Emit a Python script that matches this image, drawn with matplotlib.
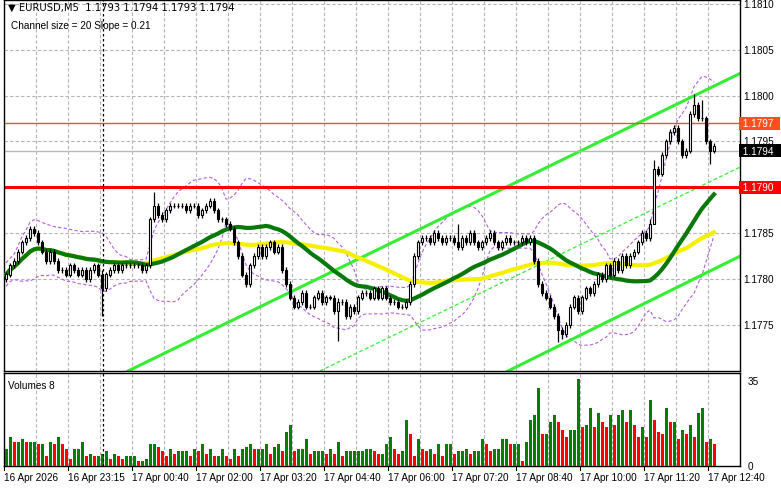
import numpy as np
import pandas as pd
import matplotlib
matplotlib.use("Agg")
import matplotlib.pyplot as plt

# closes in pips above 1.1700
closes_pips = [
    80.5, 81.5, 82,
    83, 84, 84.5, 85.5, 85, 84,
    83, 82, 83, 82, 81,
    81, 80.5, 81.5, 81, 80.5, 81, 80, 81, 81.5, 80.5, 79,
    80.5, 81, 81.5, 81, 81.5, 81.5, 81.5, 81.5, 81.5, 81, 81.5,
    86.5,
    88, 87, 86.5, 87.5, 88, 88, 88, 88, 87.5, 88, 88, 87, 87.5, 88, 88.5, 87.5, 86.5,
    86.5, 86, 85.5, 84, 82.5, 80.5, 79.5,
    81.5, 82.5, 83.5, 82.5, 83.5, 84, 83, 83.5, 81, 79.5,
    78, 77, 77.5, 78.5, 77, 77, 78, 78.5, 77.5, 78, 78, 76.5, 77.5, 77.5, 76,
    77, 76.5, 78, 78.5, 78.5, 78, 79, 78, 79, 78, 77.5, 77.5, 77, 77, 77.5,
    79.5, 82.5, 84, 84.5,
    84.5, 84, 85, 84.5, 84, 84.5, 84.5, 84, 83.5, 84.5, 84, 85, 84, 83.5, 84, 84.5, 85, 84, 83.5, 84,
    84.5, 84, 84, 84, 84.5, 84, 84.5,
    82, 79.5, 78.5, 78, 77, 76, 74.5, 74, 75,
    77, 78, 76.5, 78, 79, 78.5, 79.5,
    80.5, 80, 81.5, 80.5, 82, 81, 82.5, 81.5, 82.5, 83, 84, 85, 84.5,
    86, 92, 91.5,
    93.5, 95, 96, 96.5, 95, 93.5, 94,
    98, 99, 97.5, 97.5, 95, 94, 94.5,
]
first_open_pips = 80.0
wick_pips = 0.3
high_idx = [24, 37, 83, 113, 161, 162, 172, 174]
high_val = [81.0, 89.5, 78.0, 86.0, 86.5, 93.0, 100.2, 99.5]
low_idx = [24, 83, 138, 139, 162, 176]
low_val = [76.0, 73.3, 73.2, 73.5, 90.0, 92.5]

volumes = [
    7, 12, 10, 10, 11, 10, 10, 10, 9, 9, 4, 10, 9, 12, 9, 7, 3, 7, 7, 10,
    4, 5, 4, 4, 5, 6, 3, 5, 4, 3, 4, 4, 4, 2, 2, 3, 9, 9, 8, 6,
    4, 7, 5, 6, 6, 6, 4, 7, 6, 9, 5, 7, 4, 4, 7, 4, 3, 7, 4, 7,
    8, 9, 7, 7, 7, 9, 5, 8, 9, 6, 14, 17, 6, 7, 7, 11, 5, 6, 6, 6,
    5, 7, 5, 10, 4, 6, 6, 6,
    6, 6, 7, 7, 6, 5, 5, 9, 12, 7, 5, 6, 19, 13, 4, 11, 7, 6, 7, 5,
    9, 4, 9, 9, 5, 6, 6, 7, 5, 6, 6, 11, 9, 6, 7, 7, 11, 11, 9, 9,
    9, 2, 10, 19, 21, 32, 13, 13, 18, 21, 18, 15, 12, 15, 15, 36, 16, 17, 24, 16,
    22, 18, 16, 21, 17, 21, 23, 18, 23, 17, 12, 16, 12, 27, 19, 14, 13, 24, 18, 18,
    11, 15, 13, 17, 12, 22, 24, 10, 11, 9,
]

time_labels = ["16 Apr 2026", "16 Apr 23:15", "17 Apr 00:40", "17 Apr 02:00", "17 Apr 03:20",
               "17 Apr 04:40", "17 Apr 06:00", "17 Apr 07:20", "17 Apr 08:40", "17 Apr 10:00",
               "17 Apr 11:20", "17 Apr 12:40"]
price_ticks = [1.1775, 1.1780, 1.1785, 1.1795, 1.1800, 1.1805, 1.1810]

# channel lines: (bar, price) endpoints
chan_upper = [(30.5, 1.1770), (183.5, 1.18024)]
chan_mid = [(78.5, 1.1770), (183.5, 1.17922)]
chan_lower = [(125.5, 1.1770), (183.5, 1.17825)]

support = 1.1790
resist = 1.1797
last_price = 1.1794

close = 1.17 + np.array(closes_pips) / 1e4
n = len(close)
opn = np.concatenate([[1.17 + first_open_pips / 1e4], close[:-1]])
high = np.maximum(opn, close) + wick_pips / 1e4
low = np.minimum(opn, close) - wick_pips / 1e4
for i, v in zip(high_idx, high_val):
    high[i] = 1.17 + v / 1e4
for i, v in zip(low_idx, low_val):
    low[i] = 1.17 + v / 1e4
x = np.arange(n)

s = pd.Series(close)
ma_fast = s.rolling(30, min_periods=1).mean()
ma_slow = s.rolling(50, min_periods=1).mean()
bb_mid = s.rolling(20, min_periods=1).mean()
bb_std = s.rolling(20, min_periods=2).std().bfill()
bb_up = bb_mid + 1.8 * bb_std
bb_dn = bb_mid - 1.8 * bb_std

W, H = 781, 489
fig = plt.figure(figsize=(W / 100, H / 100), dpi=100)
plt.rcParams['font.family'] = ['Liberation Sans', 'DejaVu Sans']
FS = 7.2

def px(l, t, r, b):
    return [l / W, 1 - b / H, (r - l) / W, (b - t) / H]

ax = fig.add_axes(px(4, 1, 740, 372))
av = fig.add_axes(px(4, 374, 740, 467))
xlim = (-0.5, 183.5)

grid_x = np.arange(-0.5, 184, 8)
for a in (ax, av):
    a.set_xlim(*xlim)
    for gx in grid_x[1:]:
        a.axvline(gx, color='#b4b4b4', lw=0.8, ls=(0, (3, 2)), zorder=0)
    a.set_xticks([])
    a.set_yticks([])
    for sp in a.spines.values():
        sp.set_linewidth(1.0)

ax.set_ylim(1.1770, 1.18104)
for gy in np.arange(1.1775, 1.1811, 0.0005):
    ax.axhline(gy, color='#b4b4b4', lw=0.8, ls=(0, (3, 2)), zorder=0)

# bollinger
ax.plot(x, bb_up, color='#b060e0', lw=0.8, ls=(0, (3, 2)), zorder=1)
ax.plot(x, bb_dn, color='#b060e0', lw=0.8, ls=(0, (3, 2)), zorder=1)
# channel
for (x0, y0), (x1, y1) in [chan_upper, chan_lower]:
    ax.plot([x0, x1], [y0, y1], color='#33ee33', lw=2.2, zorder=2)
(x0, y0), (x1, y1) = chan_mid
ax.plot([x0, x1], [y0, y1], color='#33ee33', lw=0.9, ls=(0, (3, 2)), zorder=2)
# MAs
ax.plot(x, ma_slow, color='#f5f000', lw=3, zorder=3)
ax.plot(x, ma_fast, color='#087808', lw=3, zorder=3)

# horizontal levels
ax.axhline(resist, color='#ff5020', lw=1.0, zorder=2)
ax.axhline(last_price, color='#b8b8b8', lw=1.0, zorder=2)
ax.axhline(support, color='#ff0000', lw=2.2, zorder=2)

# candles
ax.vlines(x, low, high, color='black', lw=0.9, zorder=4)
up = close >= opn
bw = 0.6
ax.bar(x[up], (close - opn)[up] + 1e-6, bottom=opn[up], width=bw,
       color='white', edgecolor='black', lw=0.8, zorder=5)
ax.bar(x[~up], (opn - close)[~up], bottom=close[~up], width=bw,
       color='black', edgecolor='black', lw=0.8, zorder=5)

# crosshair
for a in (ax, av):
    a.axvline(24.25, color='black', lw=0.9, ls=(0, (2, 2)), zorder=6)

ax.text(0.006, 0.995, "\u25bc EURUSD,M5  1.1793 1.1794 1.1793 1.1794", transform=ax.transAxes,
        fontsize=FS, va='top', ha='left', family=['DejaVu Sans'])
ax.text(0.009, 0.945, "Channel size = 20 Slope = 0.21", transform=ax.transAxes,
        fontsize=FS, va='top', ha='left')

# right price axis
for p in price_ticks:
    ax.text(1.005, p, f"{p:.4f}", transform=ax.get_yaxis_transform(), fontsize=FS,
            va='center', ha='left', clip_on=False)
for p, bg, fg in [(resist, '#ff5020', 'white'), (last_price, 'black', 'white'), (support, '#ff0000', 'white')]:
    ax.text(1.0, p, f" {p:.4f}  ", transform=ax.get_yaxis_transform(), fontsize=FS,
            va='center', ha='left', color=fg, clip_on=False,
            bbox=dict(boxstyle='square,pad=0.15', fc=bg, ec='none'))

# volumes
vol = np.array(volumes)
vcol = ['#008000' if i == 0 or vol[i] >= vol[i - 1] else '#ff0000' for i in range(n)]
av.bar(x, vol, width=0.75, color=vcol, zorder=3)
av.set_ylim(0, 38.3)
av.text(0.006, 0.93, "Volumes 8", transform=av.transAxes, fontsize=FS, va='top', ha='left')
for v in (35, 0):
    av.text(1.01, v, str(v), transform=av.get_yaxis_transform(), fontsize=FS,
            va='center', ha='left', clip_on=False)

# time labels
for k, lab in enumerate(time_labels):
    xi = -0.5 + 16 * k
    xf = (4 + (xi - xlim[0]) / (xlim[1] - xlim[0]) * 736) / W
    fig.text(xf, 1 - 478 / H, lab, fontsize=FS, va='center', ha='left')
    fig.lines.append(plt.Line2D([xf, xf], [1 - 467 / H, 1 - 471 / H], transform=fig.transFigure,
                                color='black', lw=0.8))

fig.savefig("out.png", dpi=100, facecolor='white')
